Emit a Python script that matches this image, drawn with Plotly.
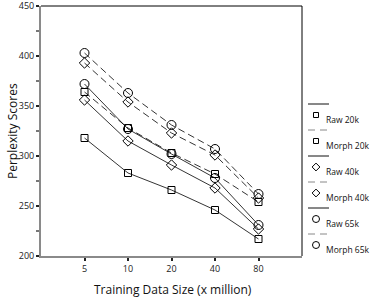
import plotly.graph_objects as go

# ---- data ----
sizes = ["5", "10", "20", "40", "80"]
series_names = ["Raw 20k", "Morph 20k", "Raw 40k", "Morph 40k", "Raw 65k", "Morph 65k"]
raw_20k = [318, 283, 266, 246, 217]
morph_20k = [364, 328, 303, 282, 254]
raw_40k = [356, 315, 291, 268, 227]
morph_40k = [393, 354, 323, 301, 258]
raw_65k = [372, 327, 302, 278, 231]
morph_65k = [403, 363, 331, 307, 262]
y_ticks = [200, 250, 300, 350, 400, 450]
x_title = "Training Data Size (x million)"
y_title = "Perplexity Scores"

series_values = [raw_20k, morph_20k, raw_40k, morph_40k, raw_65k, morph_65k]

# ---- styles ----
symbols = ["square-open", "square-open", "diamond-open", "diamond-open", "circle-open", "circle-open"]
msizes = [7, 7, 8, 8, 9, 9]
legend_msizes = [5, 5, 6, 6, 7, 7]
dashes = ["solid", "7px,4px", "solid", "7px,4px", "solid", "7px,4px"]
legend_dashes = ["solid", "7px,5px", "solid", "7px,5px", "solid", "7px,5px"]
legend_line_colors = ["#111", "#888", "#111", "#888", "#111", "#888"]

W, H = 372, 298
L, R, T, B = 41, 0, 6, 42
plot_w = W - L - R
main_w = 261
dom = main_w / plot_w
FONT = "Open Sans"

fig = go.Figure()
for name, vals, sym, ms, dash in zip(series_names, series_values, symbols, msizes, dashes):
    fig.add_trace(go.Scatter(
        x=sizes, y=vals, name=name, mode="lines+markers",
        line=dict(color="black", width=0.8, dash=dash),
        marker=dict(symbol=sym, size=ms, color="black", line=dict(width=1, color="black")),
        showlegend=False, xaxis="x", yaxis="y",
    ))

# ---- custom legend (line sample above, marker + text below) ----
leg_y0 = 98   # offset from top of plot area
leg_step = 26
for i, name in enumerate(series_names):
    ly = leg_y0 + i * leg_step
    fig.add_trace(go.Scatter(
        x=[6, 27], y=[ly, ly], mode="lines",
        line=dict(color=legend_line_colors[i], width=1, dash=legend_dashes[i]),
        showlegend=False, hoverinfo="skip", xaxis="x2", yaxis="y2",
    ))
    fig.add_trace(go.Scatter(
        x=[14], y=[ly + 11], mode="markers",
        marker=dict(symbol=symbols[i], size=legend_msizes[i], color="black",
                    line=dict(width=1, color="black")),
        showlegend=False, hoverinfo="skip", xaxis="x2", yaxis="y2",
    ))
    fig.add_annotation(
        x=24, y=ly + 15, xref="x2", yref="y2", text=name, showarrow=False,
        xanchor="left", yanchor="middle", xshift=-2,
        font=dict(family=FONT, size=8.5, color="#111"),
    )

axis_common = dict(
    showgrid=False, zeroline=False,
    showline=True, linecolor="#8a8a8a", linewidth=2,
    ticks="outside", ticklen=3, tickwidth=2, tickcolor="#222",
    tickfont=dict(family=FONT, size=9, color="#222"),
    ticklabeloverflow="allow",
)

fig.update_layout(
    width=W, height=H,
    margin=dict(l=L, r=R, t=T, b=B, pad=0),
    paper_bgcolor="white", plot_bgcolor="white",
    showlegend=False,
    xaxis=dict(domain=[0, dom], type="category", range=[-1, 5],
               anchor="y", **axis_common),
    yaxis=dict(domain=[0, 1], range=[200, 450], tickvals=y_ticks,
               minor=dict(tickvals=[225, 275, 325, 375, 425], ticks="outside",
                          ticklen=3, tickwidth=2, tickcolor="#777"),
               anchor="x", **axis_common),
    xaxis2=dict(domain=[dom, 1], range=[0, W - L - main_w], visible=False,
                anchor="y2", fixedrange=True),
    yaxis2=dict(domain=[0, 1], range=[250, 0], visible=False,
                anchor="x2", fixedrange=True),
)

# top and right borders
fig.add_shape(type="line", xref="x domain", yref="y domain", x0=0, x1=1, y0=1, y1=1,
              line=dict(color="black", width=1))
fig.add_shape(type="line", xref="x domain", yref="y domain", x0=1, x1=1, y0=0, y1=1,
              line=dict(color="black", width=1))

# axis titles
fig.add_annotation(text=x_title, xref="x domain", yref="y domain",
                   x=(173 - L) / main_w, y=(256 - 289) / 250, showarrow=False,
                   xanchor="center", yanchor="middle", borderpad=0,
                   font=dict(family=FONT, size=12, color="#111"))
fig.add_annotation(text=y_title, xref="x domain", yref="y domain",
                   x=(12 - L) / main_w, y=0.5, showarrow=False, textangle=-90,
                   xanchor="center", yanchor="middle",
                   font=dict(family=FONT, size=12, color="#111"))

fig.write_html("out.html")
